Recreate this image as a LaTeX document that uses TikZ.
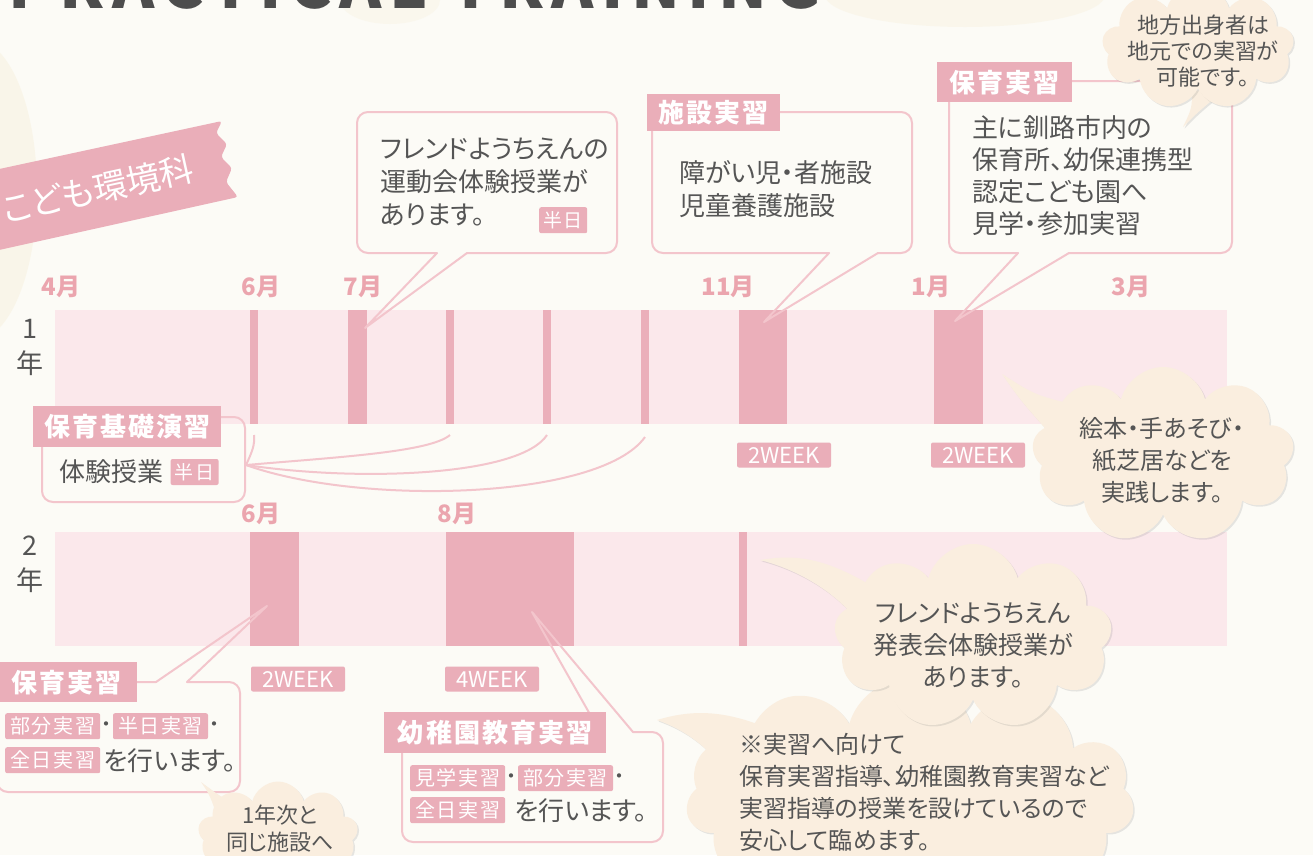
\documentclass[tikz,border=0pt]{standalone}
\usepackage{fontspec}
\usepackage{xcolor}
\usepackage{tikz}
\usetikzlibrary{
  shapes.symbols,
  shadows,
  positioning,
  calc
}
\newfontfamily\jpfont[RawFeature=+palt]{Noto Sans CJK JP}
\newfontfamily\jphead[RawFeature=+palt, LetterSpace=8]{Noto Sans CJK JP}
\newfontfamily\titlefont[LetterSpace=12]{Noto Sans CJK JP}
\definecolor{pgBack}{HTML}{FCFBF6}
\definecolor{pgBarLight}{HTML}{FBE8EB}
\definecolor{pgBarDark}{HTML}{EBAFBA}
\definecolor{pgLine}{HTML}{F3C5CC}
\definecolor{pgTag}{HTML}{EAAEB9}
\definecolor{pgMonth}{HTML}{EBA5AE}
\definecolor{pgText}{HTML}{555555}
\definecolor{pgCloud}{HTML}{FAEEDF}
\definecolor{pgBlob}{HTML}{F2E3BC}
\definecolor{pgTitle}{HTML}{4D4D4D}
\tikzset{
  lightbar/.style={
    fill=pgBarLight, inner sep=0pt, outer sep=0pt, anchor=north west,
    minimum width=1172pt, minimum height=114pt
  },
  darkbar/.style={fill=pgBarDark, inner sep=0pt, outer sep=0pt, anchor=north west, minimum height=114pt},
  month/.style={font=\jpfont\bfseries\fontsize{24}{24}\selectfont, text=pgMonth, inner sep=0pt},
  yearlbl/.style={font=\jpfont\fontsize{27}{35}\selectfont, text=pgText, align=center, inner sep=0pt},
  weektag/.style={
    fill=pgTag, text=white, rounded corners=2pt, inner sep=0pt,
    font=\jpfont\fontsize{22}{22}\selectfont, minimum width=94pt, minimum height=25pt
  },
  headtag/.style={
    fill=pgTag, text=white, inner sep=0pt, anchor=north west,
    font=\jphead\bfseries\fontsize{26}{26}\selectfont
  },
  smalltag/.style={
    fill=pgTag, text=white, rounded corners=2pt, inner sep=0pt, anchor=north west,
    font=\jphead\fontsize{20}{20}\selectfont, minimum width=95pt, minimum height=26pt
  },
  halftag/.style={smalltag, minimum width=48pt, font=\jphead\fontsize{19}{19}\selectfont},
  dotsep/.style={font=\jpfont\fontsize{20}{20}\selectfont, text=pgText, inner sep=0pt, minimum width=12pt},
  callout/.style={draw=pgLine, line width=2pt, rounded corners=11pt, line cap=round},
  pointer/.style={draw=pgLine, line width=2pt, line join=round, line cap=round},
  bodytext/.style={
    font=\jpfont\fontsize{26}{33}\selectfont, text=pgText, align=left,
    inner sep=0pt, anchor=north west
  },
  linkcurve/.style={draw=pgLine, line width=2pt},
  puff/.style={
    cloud, cloud puffs=9, cloud ignores aspect, fill=pgCloud, draw=none, inner sep=0pt,
    drop shadow={opacity=0.18, shadow xshift=1.5pt, shadow yshift=-1.5pt}
  },
  pufftail/.style={fill=pgCloud, drop shadow={opacity=0.18, shadow xshift=1.5pt, shadow yshift=-1.5pt}},
  cloudtext/.style={font=\jpfont\fontsize{24}{32}\selectfont, text=pgText, align=center, inner sep=0pt}
}
\begin{document}
\begin{tikzpicture}[x=1pt, y=-1pt]
  \useasboundingbox (0,0) rectangle (1313,855);
  \clip (0,0) rectangle (1313,855);
  \fill[pgBack] (0,0) rectangle (1313,855);
  % watercolour blobs
  \fill[pgBlob, opacity=0.22] (-25,190) ellipse (62pt and 150pt);
  \fill[pgBlob, opacity=0.18] (965,-5) ellipse (140pt and 32pt);
  \fill[pgBlob, opacity=0.15] (390,0) ellipse (50pt and 24pt);

  % title and banner
  \node[anchor=base west, inner sep=0pt, text=pgTitle, font=\titlefont\bfseries\fontsize{64}{64}\selectfont]
    (title) at (8,8) {PRACTICAL TRAINING};
  \fill[pgTag, rounded corners=3pt] (-10,171) -- (222,121) -- (216,133) -- (227,144) -- (221,157)
    -- (232,168) -- (226,182) -- (238,197) -- (-10,252) -- cycle;
  \node[rotate=12.5, text=white, inner sep=0pt, font=\jpfont\fontsize{34}{34}\selectfont]
    (dept) at (98,189) {こども環境科};

  % year 1 timeline
  \node[lightbar] (r1base) at (55,310) {};
  \node[darkbar, minimum width=8pt] (r1jun) at (250,310) {};
  \node[darkbar, minimum width=19pt] (r1jul) at (348,310) {};
  \node[darkbar, minimum width=8pt] (r1a) at (446,310) {};
  \node[darkbar, minimum width=8pt] (r1b) at (543,310) {};
  \node[darkbar, minimum width=8pt] (r1c) at (641,310) {};
  \node[darkbar, minimum width=48pt] (r1nov) at (739,310) {};
  \node[darkbar, minimum width=49pt] (r1jan) at (934,310) {};
  \node[yearlbl] (y1) at (30,347) {1\\年};
  \node[month] (m1apr) at (61,287) {4月};
  \node[month] (m1jun) at (261,287) {6月};
  \node[month] (m1jul) at (363,287) {7月};
  \node[month] (m1nov) at (728,287) {11月};
  \node[month] (m1jan) at (931,287) {1月};
  \node[month] (m1mar) at (1131,287) {3月};
  \node[weektag] (w1nov) at (784,455) {2WEEK};
  \node[weektag] (w1jan) at (978,455) {2WEEK};

  % year 2 timeline
  \node[lightbar] (r2base) at (55,532) {};
  \node[darkbar, minimum width=49pt] (r2jun) at (250,532) {};
  \node[darkbar, minimum width=128pt] (r2aug) at (446,532) {};
  \node[darkbar, minimum width=8pt] (r2c) at (739,532) {};
  \node[yearlbl] (y2) at (30,564) {2\\年};
  \node[month] (m2jun) at (261,514) {6月};
  \node[month] (m2aug) at (457,514) {8月};
  \node[weektag] (w2jun) at (298,679) {2WEEK};
  \node[weektag] (w2aug) at (492,679) {4WEEK};

  % callout: sports day
  \draw[callout] (467,253) -- (617,253) -- (617,112) -- (357,112) -- (357,253) -- (437,253);
  \draw[pointer] (437,253) -- (365,328) -- (467,253);
  \node[bodytext] (sports) at (380,138) {フレンドようちえんの\\運動会体験授業が\\あります。};
  \node[halftag] (sportshalf) at (539,207) {半日};

  % callout: facility practice
  \draw[callout] (878,253) -- (912,253) -- (912,112) -- (652,112) -- (652,253) -- (829,253);
  \draw[pointer] (829,253) -- (764,322) -- (878,253);
  \node[headtag, minimum width=133pt, minimum height=37pt] (shisetsu) at (647,94) {施設実習};
  \node[bodytext] (shisetsutext) at (679,160) {障がい児・者施設\\児童養護施設};

  % callout: nursery practice, year 1
  \draw[callout] (1069,253) -- (1232,253) -- (1232,81) -- (949,81) -- (949,253) -- (1018,253);
  \draw[pointer] (1018,253) -- (955,321) -- (1069,253);
  \node[headtag, minimum width=135pt, minimum height=40pt] (hoiku1) at (937,62) {保育実習};
  \node[bodytext, font=\jpfont\fontsize{26}{32}\selectfont] (hoiku1text) at (972,115)
    {主に釧路市内の\\保育所、幼保連携型\\認定こども園へ\\見学・参加実習};

  % basic exercise box and links
  \draw[callout] (42,417) rectangle (245,502);
  \node[headtag, minimum width=188pt, minimum height=41pt] (kiso) at (33,406) {保育基礎演習};
  \node[bodytext, anchor=west] (kisotext) at (59,472) {体験授業};
  \node[halftag, right=7pt of kisotext] (kisohalf) {半日};
  \coordinate (kisojoin) at (246,465);
  \draw[linkcurve] (kisojoin) .. controls (252,452) and (255,445) .. ([yshift=-11pt]r1jun.south);
  \draw[linkcurve] (kisojoin) .. controls (340,457) and (430,452) .. ([yshift=-11pt]r1a.south);
  \draw[linkcurve] (kisojoin) .. controls (360,482) and (520,476) .. ([yshift=-11pt]r1b.south);
  \draw[linkcurve] (kisojoin) .. controls (360,506) and (600,500) .. ([yshift=-13pt]r1c.south);

  % callout: nursery practice, year 2
  \draw[callout] (187,682) -- (240,682) -- (240,792) -- (-3,792) -- (-3,682) -- (156,682);
  \draw[pointer] (156,682) -- (267,606) -- (187,682);
  \node[headtag, minimum width=142pt, minimum height=40pt] (hoiku2) at (-5,662) {保育実習};
  \node[smalltag] (hb1) at (5,713) {部分実習};
  \node[dotsep, right=0pt of hb1] (hbd1) {・};
  \node[smalltag, right=0pt of hbd1] (hb2) {半日実習};
  \node[dotsep, right=0pt of hb2] (hbd2) {・};
  \node[smalltag] (hb3) at (5,747) {全日実習};
  \node[bodytext, right=3pt of hb3] (hb3text) {を行います。};

  % callout: kindergarten practice
  \draw[callout] (633,732) -- (663,732) -- (663,842) -- (402,842) -- (402,732) -- (600,732);
  \draw[pointer] (600,732) -- (532,612) -- (633,732);
  \node[headtag, minimum width=222pt, minimum height=41pt] (youchi) at (384,712) {幼稚園教育実習};
  \node[smalltag] (yb1) at (410,765) {見学実習};
  \node[dotsep, right=0pt of yb1] (ybd1) {・};
  \node[smalltag, right=0pt of ybd1] (yb2) {部分実習};
  \node[dotsep, right=0pt of yb2] (ybd2) {・};
  \node[smalltag] (yb3) at (410,797) {全日実習};
  \node[bodytext, right=9pt of yb3] (yb3text) {を行います。};

  % cloud: hometown placement
  \fill[pufftail] (1192,90) .. controls (1192,108) .. (1183,127) .. controls (1198,112) .. (1222,92) -- cycle;
  \node[puff, minimum width=192pt, minimum height=125pt] (local) at (1198,47) {};
  \node[cloudtext, font=\jpfont\fontsize{22}{26}\selectfont] (localtext) at (1203,51)
    {地方出身者は\\地元での実習が\\可能です。};

  % cloud: picture books
  \fill[pufftail] (1075,405) .. controls (1035,395) .. (1002,374) .. controls (1020,400) .. (1060,445) -- cycle;
  \node[puff, minimum width=262pt, minimum height=176pt] (ehon) at (1163,455) {};
  \node[cloudtext] (ehontext) at (1162,460) {絵本・手あそび・\\紙芝居などを\\実践します。};

  % cloud: preparation classes
  \fill[pufftail] (760,725) .. controls (720,710) and (690,710) .. (657,720)
    .. controls (685,730) and (705,745) .. (725,770) -- cycle;
  \node[puff, cloud puffs=11, minimum width=448pt, minimum height=245pt] (prep) at (910,800) {};
  \node[cloudtext, align=left, anchor=west] (preptext) at (739,792)
    {※実習へ向けて\\保育実習指導、幼稚園教育実習など\\実習指導の授業を設けているので\\安心して臨めます。};

  % cloud: recital
  \fill[pufftail] (870,585) .. controls (820,555) and (790,555) .. (760,560)
    .. controls (800,570) and (840,595) .. (860,625) -- cycle;
  \node[puff, minimum width=278pt, minimum height=186pt] (recital) at (973,637) {};
  \node[cloudtext, font=\jpfont\fontsize{25}{32}\selectfont] (recitaltext) at (973,645)
    {フレンドようちえん\\発表会体験授業が\\あります。};

  % cloud: same facility
  \fill[pufftail] (245,805) .. controls (225,800) .. (201,782) .. controls (210,795) .. (220,825) -- cycle;
  \node[puff, minimum width=160pt, minimum height=105pt] (same) at (278,834) {};
  \node[cloudtext, font=\jpfont\fontsize{22}{27}\selectfont] (sametext) at (280,829) {1年次と\\同じ施設へ};
\end{tikzpicture}
\end{document}
